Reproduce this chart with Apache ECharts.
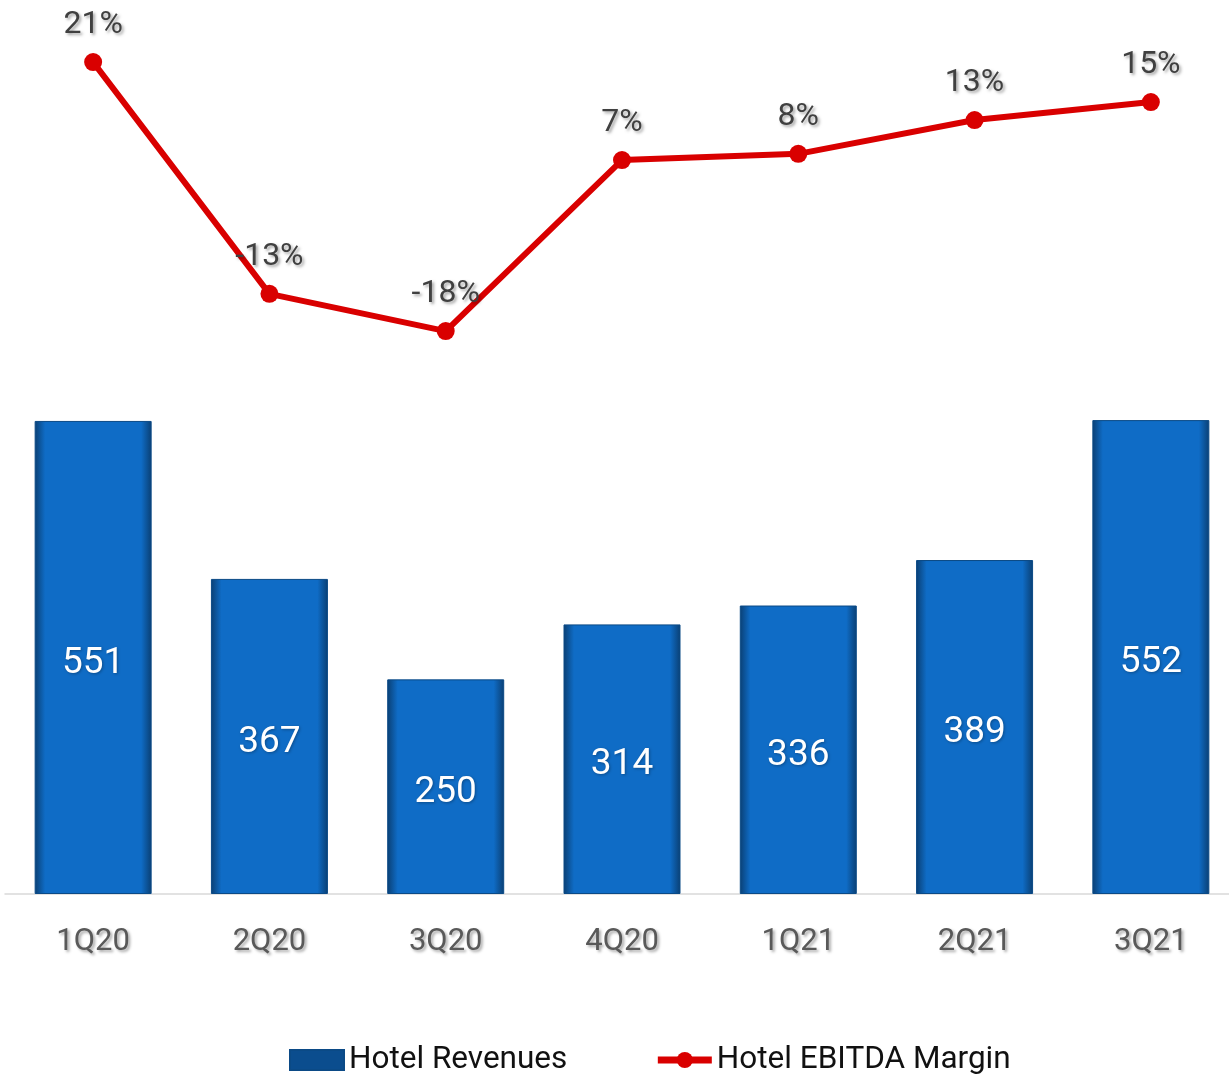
<!DOCTYPE html>
<html>
<head>
<meta charset="utf-8">
<style>html,body{margin:0;padding:0;background:#fff;}#c{width:1229px;height:1074px;}</style>
<script src="https://cdn.jsdelivr.net/npm/echarts@6/dist/echarts.min.js"></script>
</head>
<body>
<div id="c"></div>
<script>
const categories = ['1Q20','2Q20','3Q20','4Q20','1Q21','2Q21','3Q21'];
const hotelRevenues = [551, 367, 250, 314, 336, 389, 552];
const ebitdaMargin = [21, -12.6, -18, 6.8, 7.7, 12.6, 15.2];

const chart = echarts.init(document.getElementById('c'));
const shadow = {textShadowColor:'rgba(0,0,0,0.35)', textShadowBlur:3, textShadowOffsetX:2, textShadowOffsetY:2};
chart.setOption({
  animation:false,
  textStyle:{fontFamily:'Roboto'},
  grid:{left:5, right:-10, top:20, bottom:180, containLabel:false, outerBoundsMode:'none'},
  legend:{
    left:284, top:1039, itemGap:87, itemWidth:54, itemHeight:20,
    textStyle:{fontSize:31.5, color:'#111', fontFamily:'Roboto'},
    data:[
      {name:'Hotel Revenues', icon:'rect', itemStyle:{color:'#0b4d8e'}},
      {name:'Hotel EBITDA Margin', lineStyle:{width:7, color:'#d90000'}}
    ]
  },
  xAxis:{
    type:'category', data:categories,
    axisLine:{lineStyle:{color:'#d9d9d9', width:1.5}},
    axisTick:{show:false},
    axisLabel:Object.assign({fontSize:31, color:'#595959', margin:33, fontFamily:'Roboto'}, shadow)
  },
  yAxis:[
    {type:'value', min:0, max:1018, show:false, splitLine:{show:false}},
    {type:'value', min:-99.6, max:27.1, show:false, splitLine:{show:false}}
  ],
  series:[
    {
      name:'Hotel Revenues', type:'bar', yAxisIndex:0, barWidth:117,
      data:hotelRevenues,
      itemStyle:{color:{type:'linear', x:0, y:0, x2:1, y2:0, colorStops:[
        {offset:0, color:'#0a3f73'},{offset:0.09, color:'#0f6cc6'},{offset:0.91, color:'#0f6cc6'},{offset:1, color:'#0a3f73'}
      ]}, borderColor:'#0b4a86', borderWidth:1},
      label:{show:true, position:'inside', offset:[0,6], fontSize:37, color:'#fff', fontFamily:'Roboto',
        textShadowColor:'rgba(0,0,0,0.3)', textShadowBlur:3, textShadowOffsetX:1, textShadowOffsetY:1}
    },
    {
      name:'Hotel EBITDA Margin', type:'line', yAxisIndex:1,
      data:ebitdaMargin,
      lineStyle:{color:'#d90000', width:6},
      itemStyle:{color:'#d90000'},
      symbol:'circle', symbolSize:18,
      label:Object.assign({show:true, position:'top', distance:12, fontSize:32, color:'#404040', fontFamily:'Roboto',
        formatter:p=>Math.round(p.value)+'%'}, shadow)
    }
  ]
});
</script>
</body>
</html>
